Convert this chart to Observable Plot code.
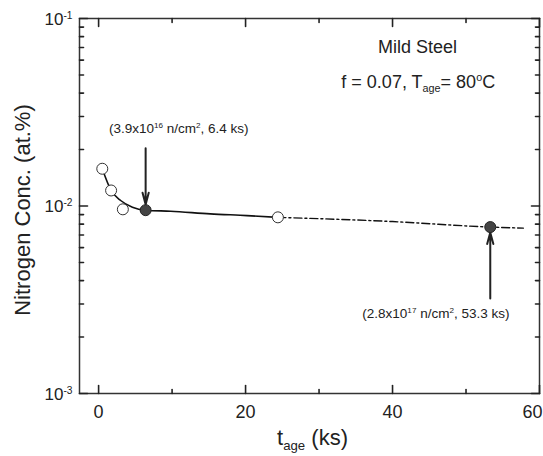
<!DOCTYPE html>
<html><head><meta charset="utf-8">
<script src="https://cdn.jsdelivr.net/npm/d3@7"></script>
<script src="https://cdn.jsdelivr.net/npm/@observablehq/plot@0.6"></script>
<style>
body{margin:0;background:#fff;}
svg{font-family:"Liberation Sans",Arial,sans-serif;}
</style>
</head><body><div id="chart"></div>
<script>
// measured points
const openT = [0.5, 1.7, 3.3, 24.4];
const openN = [0.0158, 0.0121, 0.0096, 0.0087];
const filledT = [6.4, 53.3];
const filledN = [0.0095, 0.00772];
// fitted curve (solid) and extrapolation (dash-dot)
const fitT = [0.5, 1.7, 3.0, 4.6, 6.4, 9.8, 15.2, 20.2, 24.4];
const fitN = [0.0158, 0.0121, 0.0107, 0.00986, 0.0095, 0.00938, 0.00908, 0.00889, 0.0087];
const extT = [24.4, 40, 53.3, 57.8];
const extN = [0.0087, 0.00826, 0.00772, 0.00762];
// arrows
const arrowT = [6.4, 53.3];
const arrowFrom = [0.0203, 0.00321];
const arrowTo = [0.0102, 0.00723];
// annotations
const noteText = ["(3.9x10^{16} n/cm^{2}, 6.4 ks)", "(2.8x10^{17} n/cm^{2}, 53.3 ks)"];
const noteT = [10.9, 45.9];
const noteN = [0.0259, 0.00267];
const infoText = ["Mild Steel", "f = 0.07, T_{age}= 80^{o}C"];
const infoT = [43.4, 43.5];
const infoN = [0.0705, 0.0457];
// ticks
const xMajor = [0, 20, 40, 60];
const xMajorLabels = ["0", "20", "40", "60"];
const xMinor = [10, 30, 50];
const yMajor = [0.001, 0.01, 0.1];
const yMajorLabels = ["10^{-3}", "10^{-2}", "10^{-1}"];
const yMinor = [0.002,0.003,0.004,0.005,0.006,0.007,0.008,0.009,0.02,0.03,0.04,0.05,0.06,0.07,0.08,0.09];
const xTitle = "t_{age} (ks)";
const yTitle = "Nitrogen Conc. (at.%)";

const W = 543, H = 456, mL = 79, mR = 4, mT = 18, mB = 63;
const ink = "#333";

const tickShape = {draw(context, l) { context.moveTo(0, 0); context.lineTo(0, -l); }};
const ticks = (data, key, frameAnchor, rotate, length) =>
  Plot.vector(data, {[key]: d => d, frameAnchor, rotate, length, anchor: "start",
    shape: tickShape, stroke: "#222", strokeWidth: 1.6});

const plot = Plot.plot({
  width: W, height: H,
  marginLeft: mL, marginRight: mR, marginTop: mT, marginBottom: mB,
  style: {fontFamily: '"Liberation Sans", Arial, sans-serif', color: ink, background: "#fff"},
  x: {domain: [-2.6, 60], axis: null},
  y: {type: "log", domain: [0.001, 0.1], axis: null},
  marks: [
    Plot.frame({stroke: ink, fill: "none", strokeWidth: 1.5}),
    // inward ticks on all four sides
    ticks(xMajor, "x", "bottom", 0, 8),
    ticks(xMinor, "x", "bottom", 0, 4),
    ticks(xMajor, "x", "top", 180, 8),
    ticks(xMinor, "x", "top", 180, 4),
    ticks(yMajor, "y", "left", 90, 8),
    ticks(yMinor, "y", "left", 90, 4),
    ticks(yMajor, "y", "right", -90, 8),
    ticks(yMinor, "y", "right", -90, 4),
    // tick labels
    Plot.text(xMajor.slice(0, 3), {x: d => d, text: (d, i) => xMajorLabels[i], frameAnchor: "bottom",
      lineAnchor: "top", dy: 12, fontSize: 18, fill: "#222"}),
    Plot.text(xMajor.slice(3), {x: d => d, text: (d, i) => xMajorLabels[3 + i], frameAnchor: "bottom",
      lineAnchor: "top", dy: 12, dx: -7, fontSize: 18, fill: "#222"}),
    Plot.text(yMajor, {y: d => d, text: (d, i) => yMajorLabels[i], frameAnchor: "left",
      textAnchor: "end", dx: -7, dy: 1, fontSize: 17, fill: "#222"}),
    // axis titles
    Plot.text([yTitle], {frameAnchor: "left", textAnchor: "middle", dx: -57, dy: 4, rotate: -90, fontSize: 22, fill: "#222"}),
    Plot.text([xTitle], {frameAnchor: "bottom", textAnchor: "middle", lineAnchor: "middle", dy: 44, dx: 3, fontSize: 22, fill: "#222"}),
    // curves
    Plot.line(extT, {x: d => d, y: (d, i) => extN[i], stroke: "#111", strokeWidth: 1.4, strokeDasharray: "8,3,2,3", curve: "monotone-x"}),
    Plot.line(fitT, {x: d => d, y: (d, i) => fitN[i], stroke: "#111", strokeWidth: 1.6, curve: "monotone-x"}),
    // arrows
    Plot.arrow(arrowT, {x1: d => d, x2: d => d, y1: (d, i) => arrowFrom[i], y2: (d, i) => arrowTo[i],
      stroke: "#222", strokeWidth: 2, headLength: 9, headAngle: 30}),
    // points
    Plot.dot(openT, {x: d => d, y: (d, i) => openN[i], r: 5.5, fill: "white", stroke: "#333", strokeWidth: 1}),
    Plot.dot(filledT, {x: d => d, y: (d, i) => filledN[i], r: 5.5, fill: "#444", stroke: "#222", strokeWidth: 1}),
    // annotations
    Plot.text(noteText, {x: (d, i) => noteT[i], y: (d, i) => noteN[i], text: d => d, fontSize: 13.5, fill: "#222"}),
    Plot.text(infoText, {x: (d, i) => infoT[i], y: (d, i) => infoN[i], text: d => d, fontSize: 18, fill: "#222"})
  ]
});

// convert ^{..} and _{..} markup into super/subscript tspans
function rich(svg) {
  const NS = "http://www.w3.org/2000/svg";
  svg.querySelectorAll("text").forEach(el => {
    const hasTspans = [...el.childNodes].some(n => n.nodeType === 1);
    const nodes = hasTspans ? [...el.querySelectorAll("tspan")] : [el];
    for (const node of nodes) {
      const s = node.textContent;
      if (!/[_^]\{/.test(s)) continue;
      node.textContent = "";
      const re = /([_^])\{([^}]*)\}/g;
      let last = 0, m;
      const add = (txt, kind) => {
        const t = document.createElementNS(NS, "tspan");
        t.textContent = txt;
        if (kind) {
          t.setAttribute("font-size", "60%");
          t.setAttribute("baseline-shift", kind === "^" ? "60%" : "-35%");
        }
        node.appendChild(t);
      };
      while ((m = re.exec(s))) {
        if (m.index > last) add(s.slice(last, m.index));
        add(m[2], m[1]);
        last = re.lastIndex;
      }
      if (last < s.length) add(s.slice(last));
    }
  });
}
rich(plot);
document.getElementById("chart").appendChild(plot);
</script>
</body></html>
